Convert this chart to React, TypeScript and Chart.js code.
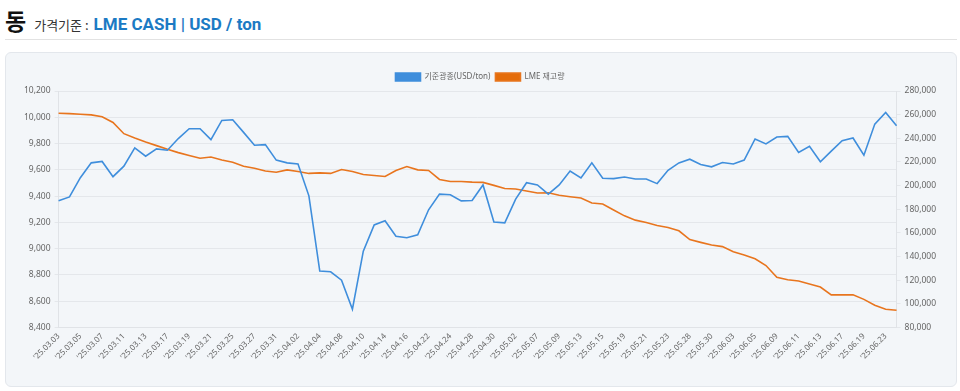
import React, { useEffect, useRef } from "react";
import { Chart, registerables } from "chart.js";

Chart.register(...registerables);

const dates: string[] = [
  "03.03", "03.04", "03.05", "03.06", "03.07", "03.10", "03.11", "03.12", "03.13", "03.14",
  "03.17", "03.18", "03.19", "03.20", "03.21", "03.24", "03.25", "03.26", "03.27", "03.28",
  "03.31", "04.01", "04.02", "04.03", "04.04", "04.07", "04.08", "04.09", "04.10", "04.11",
  "04.14", "04.15", "04.16", "04.17", "04.22", "04.23", "04.24", "04.25", "04.28", "04.29",
  "04.30", "05.01", "05.02", "05.06", "05.07", "05.08", "05.09", "05.12", "05.13", "05.14",
  "05.15", "05.16", "05.19", "05.20", "05.21", "05.22", "05.23", "05.27", "05.28", "05.29",
  "05.30", "06.02", "06.03", "06.04", "06.05", "06.06", "06.09", "06.10", "06.11", "06.12",
  "06.13", "06.16", "06.17", "06.18", "06.19", "06.20", "06.23", "06.24",
];
const labels: string[] = dates.map((d) => "'25." + d);

const priceUSD: number[] = [
  9364, 9394, 9540, 9653, 9664, 9548, 9628, 9767, 9704, 9759,
  9749, 9838, 9913, 9913, 9830, 9976, 9981, 9885, 9787, 9792,
  9674, 9653, 9645, 9402, 8830, 8824, 8760, 8539, 8981, 9181,
  9213, 9095, 9083, 9105, 9296, 9415, 9410, 9364, 9367, 9485,
  9203, 9196, 9377, 9502, 9485, 9415, 9485, 9591, 9538, 9653,
  9536, 9533, 9545, 9530, 9530, 9495, 9596, 9653, 9681, 9641,
  9623, 9656, 9644, 9674, 9835, 9797, 9850, 9855, 9732, 9779,
  9661, 9742, 9822, 9842, 9711, 9948, 10036, 9936,
];

const lmeStock: number[] = [
  261200, 260900, 260300, 259800, 258200, 253400, 243900, 240200, 236800, 233800,
  230700, 227900, 225400, 223100, 224200, 221700, 219800, 216400, 214700, 212400,
  211300, 213300, 211900, 210300, 210800, 210300, 213600, 211900, 209400, 208600,
  207700, 212800, 216100, 213300, 212800, 205200, 203500, 203500, 202900, 202700,
  200200, 197600, 197100, 195400, 193800, 194000, 191800, 190600, 189500, 185300,
  184500, 179400, 174400, 170800, 168800, 166300, 164600, 161800, 154300, 152000,
  149800, 148400, 144000, 141400, 138100, 132400, 122400, 120400, 119300, 116700,
  114200, 107600, 107600, 107600, 103800, 98800, 95400, 94600,
];

const seriesNames: string[] = ["기준광종(USD/ton)", "LME 재고량"];

const FONT = "'Noto Sans', 'Noto Sans CJK KR', sans-serif";

export default function App() {
  const ref = useRef<HTMLCanvasElement | null>(null);

  useEffect(() => {
    if (!ref.current) return;
    const chart = new Chart(ref.current, {
      type: "line",
      data: {
        labels,
        datasets: [
          {
            label: seriesNames[0],
            data: priceUSD,
            borderColor: "rgb(63,142,220)",
            backgroundColor: "rgb(63,142,220)",
            borderWidth: 1.6,
            pointRadius: 0,
            tension: 0,
            yAxisID: "y",
          },
          {
            label: seriesNames[1],
            data: lmeStock,
            borderColor: "rgb(232,117,30)",
            backgroundColor: "rgb(228,108,10)",
            borderWidth: 1.6,
            pointRadius: 0,
            tension: 0,
            yAxisID: "y1",
          },
        ],
      },
      options: {
        animation: false,
        responsive: false,
        maintainAspectRatio: false,
        layout: { padding: { top: 15, left: 14, right: 16, bottom: 20 } },
        plugins: {
          legend: {
            position: "top",
            labels: {
              boxWidth: 25,
              boxHeight: 8,
              color: "#666",
              padding: 5,
              font: { family: FONT, size: 8 },
            },
          },
          tooltip: { enabled: false },
        },
        scales: {
          x: {
            grid: { display: false, drawTicks: false },
            border: { display: true, color: "#e0e3e7" },
            ticks: {
              autoSkip: false,
              maxRotation: 45,
              minRotation: 45,
              color: "#666",
              padding: 4,
              font: { family: FONT, size: 8 },
              callback: (_v: any, i: number) => (i % 2 === 0 ? labels[i] : ""),
            },
          },
          y: {
            position: "left",
            min: 8400,
            max: 10200,
            grid: { color: "#e4e7eb", tickLength: 4 },
            border: { color: "#e0e3e7" },
            ticks: {
              stepSize: 200,
              color: "#666",
              padding: 4,
              font: { family: FONT, size: 8.5 },
              callback: (v: any) => Number(v).toLocaleString("en-US"),
            },
          },
          y1: {
            position: "right",
            min: 80000,
            max: 280000,
            grid: { drawOnChartArea: false, color: "#e4e7eb", tickLength: 4 },
            border: { color: "#e0e3e7" },
            ticks: {
              stepSize: 20000,
              color: "#666",
              padding: 4,
              font: { family: FONT, size: 8.5 },
              callback: (v: any) => Number(v).toLocaleString("en-US"),
            },
          },
        },
      },
    });
    return () => chart.destroy();
  }, []);

  return (
    <div
      style={{
        position: "fixed",
        left: 0,
        top: 0,
        width: 960,
        height: 391,
        background: "#fff",
        fontFamily: FONT,
        overflow: "hidden",
      }}
    >
      <div style={{ position: "absolute", left: 5, top: 3, display: "flex", alignItems: "baseline", whiteSpace: "nowrap" }}>
        <span style={{ fontSize: 23, fontWeight: 700, color: "#111", fontFamily: "'Noto Sans CJK KR', sans-serif" }}>동</span>
        <span style={{ fontSize: 13, color: "#333", marginLeft: 8, fontFamily: "'Noto Sans CJK KR', sans-serif" }}>가격기준 :</span>
        <span style={{ fontSize: 17, fontWeight: 700, color: "#1b7ac4", marginLeft: 5, fontFamily: "Roboto, 'Noto Sans', sans-serif" }}>
          LME CASH | USD / ton
        </span>
      </div>
      <div style={{ position: "absolute", left: 5, top: 39, width: 952, height: 1, background: "#e2e2e2" }} />
      <div
        style={{
          position: "absolute",
          left: 5,
          top: 52,
          width: 950,
          height: 333,
          background: "#f3f6f9",
          border: "1px solid #e3e7ec",
          borderRadius: 6,
        }}
      >
        <canvas ref={ref} width={950} height={333} style={{ display: "block", width: 950, height: 333 }} />
      </div>
    </div>
  );
}
